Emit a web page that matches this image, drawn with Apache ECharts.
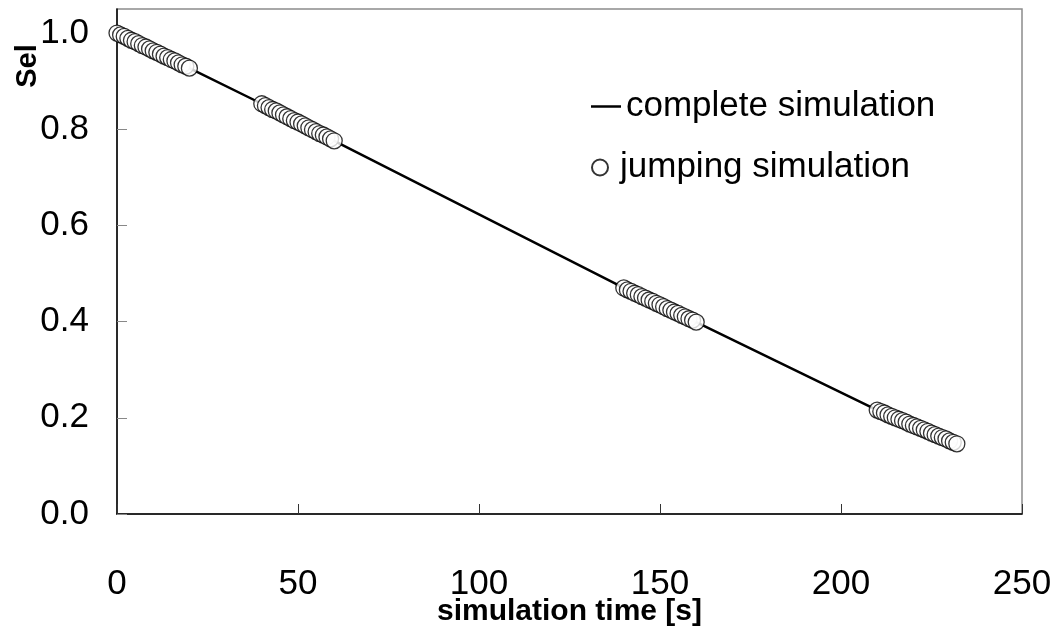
<!DOCTYPE html>
<html>
<head>
<meta charset="utf-8">
<script src="https://cdn.jsdelivr.net/npm/echarts@6/dist/echarts.min.js"></script>
<style>
  html, body { margin: 0; padding: 0; background: #fff; }
  #chart { width: 1053px; height: 628px; }
</style>
</head>
<body>
<div id="chart"></div>
<script>
// complete simulation (solid line)
const lineTime = [0, 20, 40, 60, 100, 140, 160, 210, 232];
const lineSel = [1.0, 0.927, 0.853, 0.776, 0.623, 0.47, 0.399, 0.216, 0.146];

// jumping simulation (circles), four stretches
const jumpTime1 = [0, 1, 2, 3, 4, 5, 6, 7, 8, 9, 10, 11, 12, 13, 14, 15, 16, 17, 18, 19, 20];
const jumpSel1 = [1.0, 0.996, 0.993, 0.989, 0.985, 0.982, 0.978, 0.974, 0.971, 0.967, 0.963,
  0.96, 0.956, 0.952, 0.949, 0.945, 0.942, 0.938, 0.934, 0.931, 0.927];
const jumpTime2 = [40, 41, 42, 43, 44, 45, 46, 47, 48, 49, 50, 51, 52, 53, 54, 55, 56, 57, 58, 59, 60];
const jumpSel2 = [0.853, 0.849, 0.845, 0.841, 0.838, 0.834, 0.83, 0.826, 0.822, 0.818, 0.815,
  0.811, 0.807, 0.803, 0.799, 0.795, 0.791, 0.788, 0.784, 0.78, 0.776];
const jumpTime3 = [140, 141, 142, 143, 144, 145, 146, 147, 148, 149, 150, 151, 152, 153, 154, 155, 156, 157, 158, 159, 160];
const jumpSel3 = [0.47, 0.466, 0.463, 0.459, 0.456, 0.452, 0.449, 0.445, 0.442, 0.438, 0.435,
  0.431, 0.427, 0.424, 0.42, 0.417, 0.413, 0.41, 0.406, 0.403, 0.399];
const jumpTime4 = [210, 211, 212, 213, 214, 215, 216, 217, 218, 219, 220, 221, 222, 223, 224, 225, 226, 227, 228, 229, 230, 231, 232];
const jumpSel4 = [0.216, 0.213, 0.21, 0.206, 0.203, 0.2, 0.197, 0.194, 0.191, 0.187, 0.184,
  0.181, 0.178, 0.175, 0.172, 0.168, 0.165, 0.162, 0.159, 0.156, 0.152, 0.149, 0.146];

const yTicks = [0, 0.2, 0.4, 0.6, 0.8, 1.0];

const pairs = (xs, ys) => xs.map((x, i) => [x, ys[i]]);
const jumpData = [].concat(
  pairs(jumpTime1, jumpSel1),
  pairs(jumpTime2, jumpSel2),
  pairs(jumpTime3, jumpSel3),
  pairs(jumpTime4, jumpSel4)
);

const font = "Liberation Sans, Arial, sans-serif";
const chart = echarts.init(document.getElementById("chart"));

const option = {
  animation: false,
  textStyle: { fontFamily: font },
  grid: {
    left: 117,
    right: 31,
    top: 9,
    bottom: 114,
    outerBoundsMode: "none",
    containLabel: false,
    show: true,
    borderColor: "#8c8c8c",
    borderWidth: 1.5,
  },
  legend: [
    {
      data: [{ name: "complete simulation", icon: "path://M0,0L30,0L30,2.5L0,2.5Z" }],
      left: 586,
      top: 84,
      itemWidth: 30,
      itemHeight: 16,
      itemGap: 5,
      textStyle: { fontSize: 35, color: "#000", fontFamily: font },
      itemStyle: { color: "#000" },
      selectedMode: false,
    },
    {
      data: [{ name: "jumping simulation", icon: "circle" }],
      left: 586,
      top: 145,
      itemWidth: 30,
      itemHeight: 16,
      textStyle: { fontSize: 35, color: "#000", fontFamily: font },
      selectedMode: false,
    },
  ],
  xAxis: {
    type: "value",
    min: 0,
    max: 250,
    interval: 50,
    name: "simulation time [s]",
    nameLocation: "middle",
    nameGap: 83,
    nameMoveOverlap: false,
    nameTextStyle: { fontSize: 30, fontWeight: "bold", color: "#000", fontFamily: font },
    axisLine: { onZero: false, lineStyle: { color: "#000", width: 1.5 } },
    axisTick: { inside: true, length: 10, lineStyle: { color: "#333" } },
    axisLabel: { fontSize: 35, color: "#000", margin: 53, fontFamily: font },
    splitLine: { show: false },
  },
  yAxis: {
    type: "value",
    min: 0,
    max: 1.05,
    interval: 0.2,
    axisLine: { show: true, onZero: false, lineStyle: { color: "#000", width: 1.5 } },
    axisTick: { inside: true, length: 10, customValues: yTicks, lineStyle: { color: "#888" } },
    axisLabel: {
      fontSize: 35,
      color: "#000",
      margin: 28,
      fontFamily: font,
      customValues: yTicks,
      formatter: (v) => v.toFixed(1),
    },
    splitLine: { show: false },
  },
  graphic: [
    {
      type: "text",
      x: 28,
      y: 66,
      rotation: Math.PI / 2,
      style: {
        text: "Sel",
        fontSize: 29,
        fontWeight: "bold",
        fontFamily: font,
        fill: "#000",
        align: "center",
        verticalAlign: "middle",
      },
    },
  ],
  series: [
    {
      name: "complete simulation",
      type: "line",
      data: pairs(lineTime, lineSel),
      showSymbol: false,
      lineStyle: { color: "#000", width: 2.5 },
      itemStyle: { color: "#000" },
      z: 2,
    },
    {
      name: "jumping simulation",
      type: "scatter",
      data: jumpData,
      symbol: "circle",
      symbolSize: 16,
      itemStyle: { color: "#fff", borderColor: "#000", borderWidth: 1.3 },
      z: 3,
    },
  ],
};

chart.setOption(option);
</script>
</body>
</html>
